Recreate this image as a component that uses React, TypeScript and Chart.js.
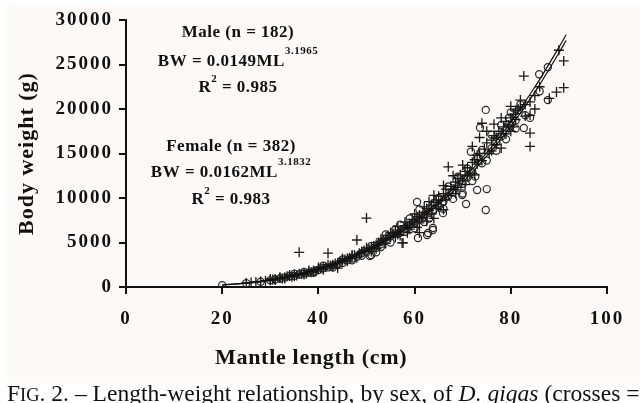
import React, { useEffect, useRef } from "react";
import { Chart, registerables } from "chart.js";

Chart.register(...registerables);

// ---- Data ----
const xTicks = [0, 20, 40, 60, 80, 100];
const yTicks = [0, 5000, 10000, 15000, 20000, 25000, 30000];

// Female (crosses): mantle length (cm) and body weight (g)
const femaleX = [25, 26, 27, 28, 29, 30, 30.5, 31, 32, 32.5, 33, 33.5, 34, 34.5, 35, 35.5, 36, 36.5, 37, 37.5, 38, 38.5, 39, 39.5, 40, 40.5, 41, 41.5, 42, 42.5, 43, 43.5, 44, 44.5, 45, 45.5, 46, 46.5, 47, 47.5, 48, 48.5, 49, 49.5, 50, 50.5, 51, 51.5, 52, 52.4, 52.5, 53, 53.5, 54, 54.5, 55, 55.5, 56, 56.5, 57, 57.4, 57.6, 58, 58.5, 59, 59.5, 60, 60.5, 61, 61.5, 62, 62.5, 63, 63.5, 64, 64.5, 65, 65.5, 66, 66.5, 67, 67.5, 68, 68.5, 69, 69.5, 70, 70.5, 71, 71.5, 72, 72.5, 73, 73.5, 74, 74.5, 75, 75.5, 76, 76.5, 77, 77.5, 78, 78.5, 79, 79.5, 80, 80.5, 81, 81.5, 82, 82.7, 83, 84, 84, 84, 85, 88, 89.5, 91, 90, 91,
  30, 31, 32, 33, 34, 35, 36, 37, 38, 39, 40, 41, 42, 43, 44, 45, 46, 47, 48, 49, 50, 51, 52, 53, 54, 55, 56, 56.5, 57, 58, 58.5, 59, 60, 60.5, 61, 62, 62.5, 63, 63.5, 64, 64.5, 65, 66, 66.5, 67, 68, 68.5, 69, 70, 70.5, 71, 72, 72.5, 73, 73.5, 74, 75, 76, 76.5, 77, 78, 79, 80, 80.5, 81, 82, 83, 84, 85, 86, 80, 78, 66, 64, 61];
const femaleY = [450, 500, 560, 620, 700, 760, 850, 900, 1000, 950, 1100, 1200, 1250, 1150, 1350, 1300, 3900, 1450, 1550, 1500, 1700, 1650, 1850, 1800, 2000, 2100, 2150, 2250, 3800, 2400, 2500, 2650, 2130, 2800, 2950, 3100, 3200, 3300, 3450, 3600, 5280, 3800, 3900, 4100, 7750, 4300, 4400, 4600, 4750, 4720, 5000, 5100, 5300, 5500, 5800, 5600, 6000, 6200, 5900, 6400, 4950, 4950, 6900, 6700, 7100, 7600, 7400, 7900, 8100, 7800, 8400, 8800, 8600, 9200, 9500, 9800, 10200, 9700, 10500, 11000, 13500, 11300, 11000, 11800, 12200, 12600, 12000, 13000, 13400, 12800, 14000, 14300, 13800, 15000, 18400, 15500, 16200, 15000, 16500, 17000, 16800, 17500, 17200, 18000, 18600, 18200, 19000, 19400, 18800, 20000, 20300, 23700, 20500, 19300, 17300, 15800, 21500, 21200, 21900, 22400, 26600, 25400,
  900, 780, 1100, 950, 1350, 1200, 1500, 1400, 1850, 1700, 2200, 1950, 2500, 2300, 2700, 3200, 2900, 3600, 3300, 4000, 4400, 4000, 4300, 5400, 4900, 6100, 5600, 6800, 5800, 7300, 6100, 6500, 8200, 6700, 7200, 9000, 7400, 9600, 8200, 10300, 8800, 9000, 11400, 9800, 10300, 12500, 10500, 11200, 13700, 11500, 12500, 15800, 12600, 14800, 16800, 14200, 17500, 15300, 18300, 16000, 19000, 17200, 20300, 18000, 19800, 21000, 19200, 20800, 20000, 22500, 17500, 15600, 8700, 7700, 6100];

// Male (circles)
const maleX = [20, 30, 31, 32, 33, 34, 35, 36, 37, 38, 39, 40, 41, 42, 43, 44, 45, 46, 47, 48, 49, 50, 50.7, 51, 52, 53, 54, 55, 56, 57, 58, 59, 60, 60.5, 60.7, 61, 62, 62.6, 62.8, 63, 63.8, 63.8, 64, 65, 65.9, 66, 67, 68, 69, 69.9, 70, 70.7, 71, 71.7, 72, 72.6, 73, 73.6, 74, 74.8, 74.8, 75, 76, 77, 78, 79, 79.6, 80, 81, 81.7, 82.7, 84, 85.9, 87.7, 87.7,
  25, 28, 35, 37, 39, 41, 43, 45, 47, 49, 51, 52, 53, 54, 55, 56, 57, 58, 59, 60, 61, 62, 63, 64, 65, 66, 67, 68, 69, 70, 71, 72, 73, 74, 75, 76, 77, 78, 79, 80, 81, 82, 83, 86];
const maleY = [200, 750, 850, 950, 1050, 1200, 1250, 1400, 1500, 1600, 1750, 1900, 2100, 2200, 2450, 2550, 2700, 3000, 3200, 3400, 3800, 3900, 3480, 3600, 4400, 4800, 5200, 5700, 6000, 6100, 6600, 7000, 7200, 9550, 5500, 7600, 7900, 5850, 6070, 8300, 6400, 6630, 8700, 9100, 8300, 9600, 10200, 10600, 11300, 10340, 11600, 9330, 12300, 15200, 12900, 12400, 10900, 17900, 13900, 8650, 19900, 11000, 15600, 16300, 16900, 17600, 19000, 18100, 18700, 19900, 17870, 19000, 23900, 24700, 21000,
  420, 600, 1500, 1700, 1600, 2400, 2200, 3100, 3000, 3500, 4600, 3900, 4500, 5900, 5000, 6500, 7000, 6200, 7700, 6600, 8700, 7300, 7700, 9400, 10000, 8800, 11300, 9900, 12400, 10500, 13300, 11900, 14500, 15400, 14200, 17100, 15300, 18200, 16600, 19600, 17800, 20500, 19300, 22000];

// Fitted curves as drawn
const curveX = [20, 25, 30, 35, 40, 45, 50, 55, 60, 65, 70, 75, 80, 85, 90, 91.5];
const maleCurveY = [215, 440, 785, 1290, 1970, 2860, 4020, 5470, 7200, 9270, 11780, 14700, 18050, 21900, 26300, 27700];
const femaleCurveY = [224, 455, 816, 1330, 2040, 2960, 4150, 5640, 7410, 9560, 12100, 15080, 18510, 22470, 26930, 28350];

const SERIF = "'Liberation Serif', 'Times New Roman', serif";

function pts(xs: number[], ys: number[]) {
  return xs.map((x, i) => ({ x, y: ys[i] }));
}

function drawRich(ctx: any, parts: { t: string; f: string; dy?: number }[], cx: number, cy: number) {
  let total = 0;
  const widths = parts.map((p) => {
    ctx.font = p.f;
    const w = ctx.measureText(p.t).width;
    total += w;
    return w;
  });
  let x = cx - total / 2;
  parts.forEach((p, i) => {
    ctx.font = p.f;
    ctx.fillText(p.t, x, cy + (p.dy || 0));
    x += widths[i];
  });
}

const decorPlugin = {
  id: "decor",
  beforeDraw(chart: any) {
    const ctx = chart.ctx as any;
    ctx.fillStyle = "#ffffff";
    ctx.fillRect(0, 0, chart.width, chart.height);
    ctx.fillStyle = "#fcf9f6";
    ctx.fillRect(7, 5, 633, 378);
    ctx.letterSpacing = "2px";
  },
  afterDraw(chart: any) {
    const ctx = chart.ctx as any;
    ctx.save();
    ctx.letterSpacing = "0.5px";
    ctx.fillStyle = "#111";
    ctx.textBaseline = "middle";
    ctx.textAlign = "left";
    const b = `bold 17px ${SERIF}`;
    const s = `bold 11px ${SERIF}`;
    drawRich(ctx, [{ t: "Male (n = 182)", f: b }], 238, 33);
    drawRich(ctx, [{ t: "BW = 0.0149ML", f: b }, { t: "3.1965", f: s, dy: -11 }], 238, 62);
    drawRich(ctx, [{ t: "R", f: b }, { t: "2", f: s, dy: -9 }, { t: " = 0.985", f: b }], 238, 88);
    drawRich(ctx, [{ t: "Female (n = 382)", f: b }], 231, 147);
    drawRich(ctx, [{ t: "BW = 0.0162ML", f: b }, { t: "3.1832", f: s, dy: -11 }], 231, 173);
    drawRich(ctx, [{ t: "R", f: b }, { t: "2", f: s, dy: -9 }, { t: " = 0.983", f: b }], 231, 200);

    // axis titles
    ctx.font = `bold 22px ${SERIF}`;
    ctx.textAlign = "left";
    ctx.letterSpacing = "0.7px";
    ctx.fillText("Mantle length (cm)", 215, 358);
    ctx.save();
    ctx.translate(27, 235);
    ctx.rotate(-Math.PI / 2);
    ctx.letterSpacing = "1px";
    ctx.fillText("Body weight (g)", 0, 0);
    ctx.restore();

    // caption
    ctx.letterSpacing = "0px";
    ctx.textAlign = "left";
    ctx.textBaseline = "alphabetic";
    const fs = 20;
    const reg = (z: number) => `${z}px ${SERIF}`;
    const ita = (z: number) => `italic ${z}px ${SERIF}`;
    const cap = [
      { t: "F", f: reg(fs) },
      { t: "IG", f: reg(fs * 0.78) },
      { t: ". 2. – Length-weight relationship, by sex, of ", f: reg(fs) },
      { t: "D. gigas", f: ita(fs) },
      { t: " (crosses =", f: reg(fs) },
    ];
    let total = 0;
    cap.forEach((p) => { ctx.font = p.f; total += ctx.measureText(p.t).width; });
    const k = 633 / total;
    let x = 7;
    cap.forEach((p) => {
      const size = parseFloat(p.f.match(/([\d.]+)px/)![1]) * k;
      ctx.font = p.f.startsWith("italic") ? ita(size) : reg(size);
      ctx.fillText(p.t, x, 401);
      x += ctx.measureText(p.t).width;
    });
    ctx.restore();
  },
};

export default function App() {
  const ref = useRef<HTMLCanvasElement>(null);
  useEffect(() => {
    if (!ref.current) return;
    const chart = new Chart(ref.current, {
      type: "scatter",
      data: {
        datasets: [
          {
            type: "line",
            data: pts(curveX, maleCurveY),
            borderColor: "#111",
            borderWidth: 1.2,
            pointRadius: 0,
            cubicInterpolationMode: "monotone",
            fill: false,
            order: 0,
          } as any,
          {
            type: "line",
            data: pts(curveX, femaleCurveY),
            borderColor: "#111",
            borderWidth: 1.2,
            pointRadius: 0,
            cubicInterpolationMode: "monotone",
            fill: false,
            order: 1,
          } as any,
          {
            data: pts(femaleX, femaleY),
            pointStyle: "cross",
            pointRadius: 5,
            borderColor: "#1a1a1a",
            borderWidth: 1.3,
            backgroundColor: "transparent",
            order: 2,
          },
          {
            data: pts(maleX, maleY),
            pointStyle: "circle",
            pointRadius: 3.6,
            borderColor: "#2a2a2a",
            borderWidth: 1.2,
            backgroundColor: "transparent",
            order: 3,
          },
        ],
      },
      options: {
        animation: false,
        responsive: false,
        layout: { padding: { left: 0, right: 37, top: 20, bottom: 0 } },
        plugins: { legend: { display: false }, tooltip: { enabled: false } },
        scales: {
          x: {
            type: "linear",
            min: 0,
            max: 100,
            afterBuildTicks: (s: any) => { s.ticks = xTicks.map((v) => ({ value: v })); },
            afterFit: (s: any) => { s.height = 116; },
            ticks: { color: "#111", font: { family: SERIF, size: 19, weight: "bold" }, padding: 14, maxRotation: 0, callback: (v: any) => String(v) },
            grid: { drawOnChartArea: false, drawTicks: true, tickLength: 7, color: "#111", lineWidth: 2 },
            border: { display: true, color: "#111", width: 2 },
          },
          y: {
            type: "linear",
            min: 0,
            max: 30000,
            afterBuildTicks: (s: any) => { s.ticks = yTicks.map((v) => ({ value: v })); },
            afterFit: (s: any) => { s.width = 126; },
            ticks: { color: "#111", font: { family: SERIF, size: 19, weight: "bold" }, padding: 6, callback: (v: any) => String(v) },
            grid: { drawOnChartArea: false, drawTicks: true, tickLength: 7, color: "#111", lineWidth: 2 },
            border: { display: true, color: "#111", width: 2 },
          },
        },
      },
      plugins: [decorPlugin],
    });
    return () => chart.destroy();
  }, []);
  return (
    <div style={{ position: "fixed", left: 0, top: 0, width: 644, height: 403 }}>
      <canvas ref={ref} width={644} height={403} />
    </div>
  );
}
